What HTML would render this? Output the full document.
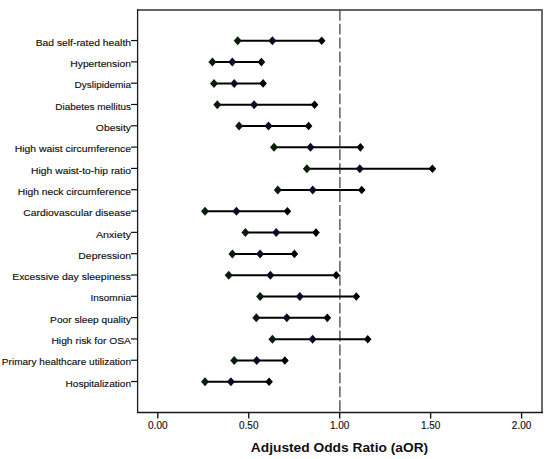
<!DOCTYPE html>
<html><head><meta charset="utf-8"><style>
html,body{margin:0;padding:0;background:#fff;width:550px;height:459px;overflow:hidden;}
svg{display:block;}
text{font-family:"Liberation Sans",sans-serif;fill:#111;}
.yl{font-size:9.8px;stroke:#111;stroke-width:0.15px;}
.xl{font-size:10px;stroke:#111;stroke-width:0.15px;}
.tt{font-size:13px;font-weight:bold;}
</style></head><body>
<svg width="550" height="459" viewBox="0 0 550 459">
<rect x="0" y="0" width="550" height="459" fill="#fff"/>
<line x1="137.6" y1="10.0" x2="543.0" y2="10.0" stroke="#666" stroke-width="2"/>
<line x1="542.0" y1="10.0" x2="542.0" y2="412.5" stroke="#6a6a6a" stroke-width="2"/>
<line x1="339.9" y1="9.7" x2="339.9" y2="412.5" stroke="#444" stroke-width="1.3" stroke-dasharray="10.95 3"/>
<line x1="137.6" y1="9.0" x2="137.6" y2="413.1" stroke="#1a1a1a" stroke-width="1.3"/>
<line x1="137.0" y1="412.5" x2="543.0" y2="412.5" stroke="#1a1a1a" stroke-width="1.3"/>
<line x1="131.0" y1="40.55" x2="137.6" y2="40.55" stroke="#111" stroke-width="1.2"/>
<text x="131.0" y="45.75" text-anchor="end" class="yl" transform="translate(131.0 0) scale(1.0556 1) translate(-131.0 0)">Bad self-rated health</text>
<line x1="131.0" y1="61.86" x2="137.6" y2="61.86" stroke="#111" stroke-width="1.2"/>
<text x="131.0" y="67.06" text-anchor="end" class="yl" transform="translate(131.0 0) scale(1.0526 1) translate(-131.0 0)">Hypertension</text>
<line x1="131.0" y1="83.17" x2="137.6" y2="83.17" stroke="#111" stroke-width="1.2"/>
<text x="131.0" y="88.38" text-anchor="end" class="yl" transform="translate(131.0 0) scale(1.0164 1) translate(-131.0 0)">Dyslipidemia</text>
<line x1="131.0" y1="104.49" x2="137.6" y2="104.49" stroke="#111" stroke-width="1.2"/>
<text x="131.0" y="109.69" text-anchor="end" class="yl" transform="translate(131.0 0) scale(1.0149 1) translate(-131.0 0)">Diabetes mellitus</text>
<line x1="131.0" y1="125.80" x2="137.6" y2="125.80" stroke="#111" stroke-width="1.2"/>
<text x="131.0" y="131.00" text-anchor="end" class="yl" transform="translate(131.0 0) scale(1.0576 1) translate(-131.0 0)">Obesity</text>
<line x1="131.0" y1="147.11" x2="137.6" y2="147.11" stroke="#111" stroke-width="1.2"/>
<text x="131.0" y="152.31" text-anchor="end" class="yl" transform="translate(131.0 0) scale(1.0633 1) translate(-131.0 0)">High waist circumference</text>
<line x1="131.0" y1="168.43" x2="137.6" y2="168.43" stroke="#111" stroke-width="1.2"/>
<text x="131.0" y="173.62" text-anchor="end" class="yl" transform="translate(131.0 0) scale(1.0553 1) translate(-131.0 0)">High waist-to-hip ratio</text>
<line x1="131.0" y1="189.74" x2="137.6" y2="189.74" stroke="#111" stroke-width="1.2"/>
<text x="131.0" y="194.94" text-anchor="end" class="yl" transform="translate(131.0 0) scale(1.0505 1) translate(-131.0 0)">High neck circumference</text>
<line x1="131.0" y1="211.05" x2="137.6" y2="211.05" stroke="#111" stroke-width="1.2"/>
<text x="131.0" y="216.25" text-anchor="end" class="yl" transform="translate(131.0 0) scale(1.0584 1) translate(-131.0 0)">Cardiovascular disease</text>
<line x1="131.0" y1="232.36" x2="137.6" y2="232.36" stroke="#111" stroke-width="1.2"/>
<text x="131.0" y="237.56" text-anchor="end" class="yl" transform="translate(131.0 0) scale(1.0906 1) translate(-131.0 0)">Anxiety</text>
<line x1="131.0" y1="253.68" x2="137.6" y2="253.68" stroke="#111" stroke-width="1.2"/>
<text x="131.0" y="258.88" text-anchor="end" class="yl" transform="translate(131.0 0) scale(1.0612 1) translate(-131.0 0)">Depression</text>
<line x1="131.0" y1="274.99" x2="137.6" y2="274.99" stroke="#111" stroke-width="1.2"/>
<text x="131.0" y="280.19" text-anchor="end" class="yl" transform="translate(131.0 0) scale(1.0658 1) translate(-131.0 0)">Excessive day sleepiness</text>
<line x1="131.0" y1="296.30" x2="137.6" y2="296.30" stroke="#111" stroke-width="1.2"/>
<text x="131.0" y="301.50" text-anchor="end" class="yl" transform="translate(131.0 0) scale(1.0205 1) translate(-131.0 0)">Insomnia</text>
<line x1="131.0" y1="317.61" x2="137.6" y2="317.61" stroke="#111" stroke-width="1.2"/>
<text x="131.0" y="322.81" text-anchor="end" class="yl" transform="translate(131.0 0) scale(1.0390 1) translate(-131.0 0)">Poor sleep quality</text>
<line x1="131.0" y1="338.93" x2="137.6" y2="338.93" stroke="#111" stroke-width="1.2"/>
<text x="131.0" y="344.12" text-anchor="end" class="yl" transform="translate(131.0 0) scale(1.0533 1) translate(-131.0 0)">High risk for OSA</text>
<line x1="131.0" y1="360.24" x2="137.6" y2="360.24" stroke="#111" stroke-width="1.2"/>
<text x="131.0" y="365.44" text-anchor="end" class="yl" transform="translate(131.0 0) scale(1.0280 1) translate(-131.0 0)">Primary healthcare utilization</text>
<line x1="131.0" y1="381.55" x2="137.6" y2="381.55" stroke="#111" stroke-width="1.2"/>
<text x="131.0" y="386.75" text-anchor="end" class="yl" transform="translate(131.0 0) scale(1.0302 1) translate(-131.0 0)">Hospitalization</text>
<line x1="157.80" y1="412.5" x2="157.80" y2="418.6" stroke="#1a1a1a" stroke-width="1.4"/>
<text x="157.80" y="428.6" text-anchor="middle" class="xl">0.00</text>
<line x1="248.75" y1="412.5" x2="248.75" y2="418.6" stroke="#1a1a1a" stroke-width="1.4"/>
<text x="248.75" y="428.6" text-anchor="middle" class="xl">0.50</text>
<line x1="339.70" y1="412.5" x2="339.70" y2="418.6" stroke="#1a1a1a" stroke-width="1.4"/>
<text x="339.70" y="428.6" text-anchor="middle" class="xl">1.00</text>
<line x1="430.65" y1="412.5" x2="430.65" y2="418.6" stroke="#1a1a1a" stroke-width="1.4"/>
<text x="430.65" y="428.6" text-anchor="middle" class="xl">1.50</text>
<line x1="521.60" y1="412.5" x2="521.60" y2="418.6" stroke="#1a1a1a" stroke-width="1.4"/>
<text x="521.60" y="428.6" text-anchor="middle" class="xl">2.00</text>
<line x1="237.70" y1="40.80" x2="321.70" y2="40.80" stroke="#000" stroke-width="2"/>
<path d="M233.70,40.80L237.70,36.30L241.70,40.80L237.70,45.30Z" fill="#0a1c0a"/>
<path d="M268.40,40.80L272.40,36.30L276.40,40.80L272.40,45.30Z" fill="#0b0b22"/>
<path d="M317.90,40.80L321.70,36.50L325.50,40.80L321.70,45.10Z" fill="#000"/>
<line x1="212.40" y1="62.11" x2="261.40" y2="62.11" stroke="#000" stroke-width="2"/>
<path d="M208.40,62.11L212.40,57.61L216.40,62.11L212.40,66.61Z" fill="#0a1c0a"/>
<path d="M228.30,62.11L232.30,57.61L236.30,62.11L232.30,66.61Z" fill="#0b0b22"/>
<path d="M257.60,62.11L261.40,57.81L265.20,62.11L261.40,66.41Z" fill="#000"/>
<line x1="214.00" y1="83.42" x2="263.10" y2="83.42" stroke="#000" stroke-width="2"/>
<path d="M210.00,83.42L214.00,78.92L218.00,83.42L214.00,87.92Z" fill="#0a1c0a"/>
<path d="M230.20,83.42L234.20,78.92L238.20,83.42L234.20,87.92Z" fill="#0b0b22"/>
<path d="M259.30,83.42L263.10,79.12L266.90,83.42L263.10,87.72Z" fill="#000"/>
<line x1="217.30" y1="104.74" x2="314.60" y2="104.74" stroke="#000" stroke-width="2"/>
<path d="M213.30,104.74L217.30,100.24L221.30,104.74L217.30,109.24Z" fill="#0a1c0a"/>
<path d="M250.10,104.74L254.10,100.24L258.10,104.74L254.10,109.24Z" fill="#0b0b22"/>
<path d="M310.80,104.74L314.60,100.44L318.40,104.74L314.60,109.04Z" fill="#000"/>
<line x1="239.10" y1="126.05" x2="308.60" y2="126.05" stroke="#000" stroke-width="2"/>
<path d="M235.10,126.05L239.10,121.55L243.10,126.05L239.10,130.55Z" fill="#0a1c0a"/>
<path d="M264.50,126.05L268.50,121.55L272.50,126.05L268.50,130.55Z" fill="#0b0b22"/>
<path d="M304.80,126.05L308.60,121.75L312.40,126.05L308.60,130.35Z" fill="#000"/>
<line x1="274.00" y1="147.36" x2="360.40" y2="147.36" stroke="#000" stroke-width="2"/>
<path d="M270.00,147.36L274.00,142.86L278.00,147.36L274.00,151.86Z" fill="#0a1c0a"/>
<path d="M306.50,147.36L310.50,142.86L314.50,147.36L310.50,151.86Z" fill="#0b0b22"/>
<path d="M356.60,147.36L360.40,143.06L364.20,147.36L360.40,151.66Z" fill="#000"/>
<line x1="306.90" y1="168.68" x2="432.40" y2="168.68" stroke="#000" stroke-width="2"/>
<path d="M302.90,168.68L306.90,164.18L310.90,168.68L306.90,173.18Z" fill="#0a1c0a"/>
<path d="M355.80,168.68L359.80,164.18L363.80,168.68L359.80,173.18Z" fill="#0b0b22"/>
<path d="M428.60,168.68L432.40,164.38L436.20,168.68L432.40,172.98Z" fill="#000"/>
<line x1="277.80" y1="189.99" x2="361.70" y2="189.99" stroke="#000" stroke-width="2"/>
<path d="M273.80,189.99L277.80,185.49L281.80,189.99L277.80,194.49Z" fill="#0a1c0a"/>
<path d="M308.70,189.99L312.70,185.49L316.70,189.99L312.70,194.49Z" fill="#0b0b22"/>
<path d="M357.90,189.99L361.70,185.69L365.50,189.99L361.70,194.29Z" fill="#000"/>
<line x1="205.00" y1="211.30" x2="287.40" y2="211.30" stroke="#000" stroke-width="2"/>
<path d="M201.00,211.30L205.00,206.80L209.00,211.30L205.00,215.80Z" fill="#0a1c0a"/>
<path d="M232.40,211.30L236.40,206.80L240.40,211.30L236.40,215.80Z" fill="#0b0b22"/>
<path d="M283.60,211.30L287.40,207.00L291.20,211.30L287.40,215.60Z" fill="#000"/>
<line x1="245.40" y1="232.61" x2="316.00" y2="232.61" stroke="#000" stroke-width="2"/>
<path d="M241.40,232.61L245.40,228.11L249.40,232.61L245.40,237.11Z" fill="#0a1c0a"/>
<path d="M272.20,232.61L276.20,228.11L280.20,232.61L276.20,237.11Z" fill="#0b0b22"/>
<path d="M312.20,232.61L316.00,228.31L319.80,232.61L316.00,236.91Z" fill="#000"/>
<line x1="232.40" y1="253.93" x2="294.40" y2="253.93" stroke="#000" stroke-width="2"/>
<path d="M228.40,253.93L232.40,249.43L236.40,253.93L232.40,258.43Z" fill="#0a1c0a"/>
<path d="M256.10,253.93L260.10,249.43L264.10,253.93L260.10,258.43Z" fill="#0b0b22"/>
<path d="M290.60,253.93L294.40,249.62L298.20,253.93L294.40,258.23Z" fill="#000"/>
<line x1="228.70" y1="275.24" x2="336.20" y2="275.24" stroke="#000" stroke-width="2"/>
<path d="M224.70,275.24L228.70,270.74L232.70,275.24L228.70,279.74Z" fill="#0a1c0a"/>
<path d="M266.40,275.24L270.40,270.74L274.40,275.24L270.40,279.74Z" fill="#0b0b22"/>
<path d="M332.40,275.24L336.20,270.94L340.00,275.24L336.20,279.54Z" fill="#000"/>
<line x1="260.10" y1="296.55" x2="356.30" y2="296.55" stroke="#000" stroke-width="2"/>
<path d="M256.10,296.55L260.10,292.05L264.10,296.55L260.10,301.05Z" fill="#0a1c0a"/>
<path d="M295.80,296.55L299.80,292.05L303.80,296.55L299.80,301.05Z" fill="#0b0b22"/>
<path d="M352.50,296.55L356.30,292.25L360.10,296.55L356.30,300.85Z" fill="#000"/>
<line x1="256.30" y1="317.86" x2="327.30" y2="317.86" stroke="#000" stroke-width="2"/>
<path d="M252.30,317.86L256.30,313.36L260.30,317.86L256.30,322.36Z" fill="#0a1c0a"/>
<path d="M282.80,317.86L286.80,313.36L290.80,317.86L286.80,322.36Z" fill="#0b0b22"/>
<path d="M323.50,317.86L327.30,313.56L331.10,317.86L327.30,322.16Z" fill="#000"/>
<line x1="272.40" y1="339.18" x2="367.70" y2="339.18" stroke="#000" stroke-width="2"/>
<path d="M268.40,339.18L272.40,334.68L276.40,339.18L272.40,343.68Z" fill="#0a1c0a"/>
<path d="M308.60,339.18L312.60,334.68L316.60,339.18L312.60,343.68Z" fill="#0b0b22"/>
<path d="M363.90,339.18L367.70,334.88L371.50,339.18L367.70,343.48Z" fill="#000"/>
<line x1="234.20" y1="360.49" x2="284.90" y2="360.49" stroke="#000" stroke-width="2"/>
<path d="M230.20,360.49L234.20,355.99L238.20,360.49L234.20,364.99Z" fill="#0a1c0a"/>
<path d="M252.70,360.49L256.70,355.99L260.70,360.49L256.70,364.99Z" fill="#0b0b22"/>
<path d="M281.10,360.49L284.90,356.19L288.70,360.49L284.90,364.79Z" fill="#000"/>
<line x1="205.00" y1="381.80" x2="269.10" y2="381.80" stroke="#000" stroke-width="2"/>
<path d="M201.00,381.80L205.00,377.30L209.00,381.80L205.00,386.30Z" fill="#0a1c0a"/>
<path d="M226.90,381.80L230.90,377.30L234.90,381.80L230.90,386.30Z" fill="#0b0b22"/>
<path d="M265.30,381.80L269.10,377.50L272.90,381.80L269.10,386.10Z" fill="#000"/>
<text x="339.5" y="451.6" text-anchor="middle" class="tt" transform="translate(339.5 0) scale(1.06 1) translate(-339.5 0)">Adjusted Odds Ratio (aOR)</text>
</svg>
</body></html>
